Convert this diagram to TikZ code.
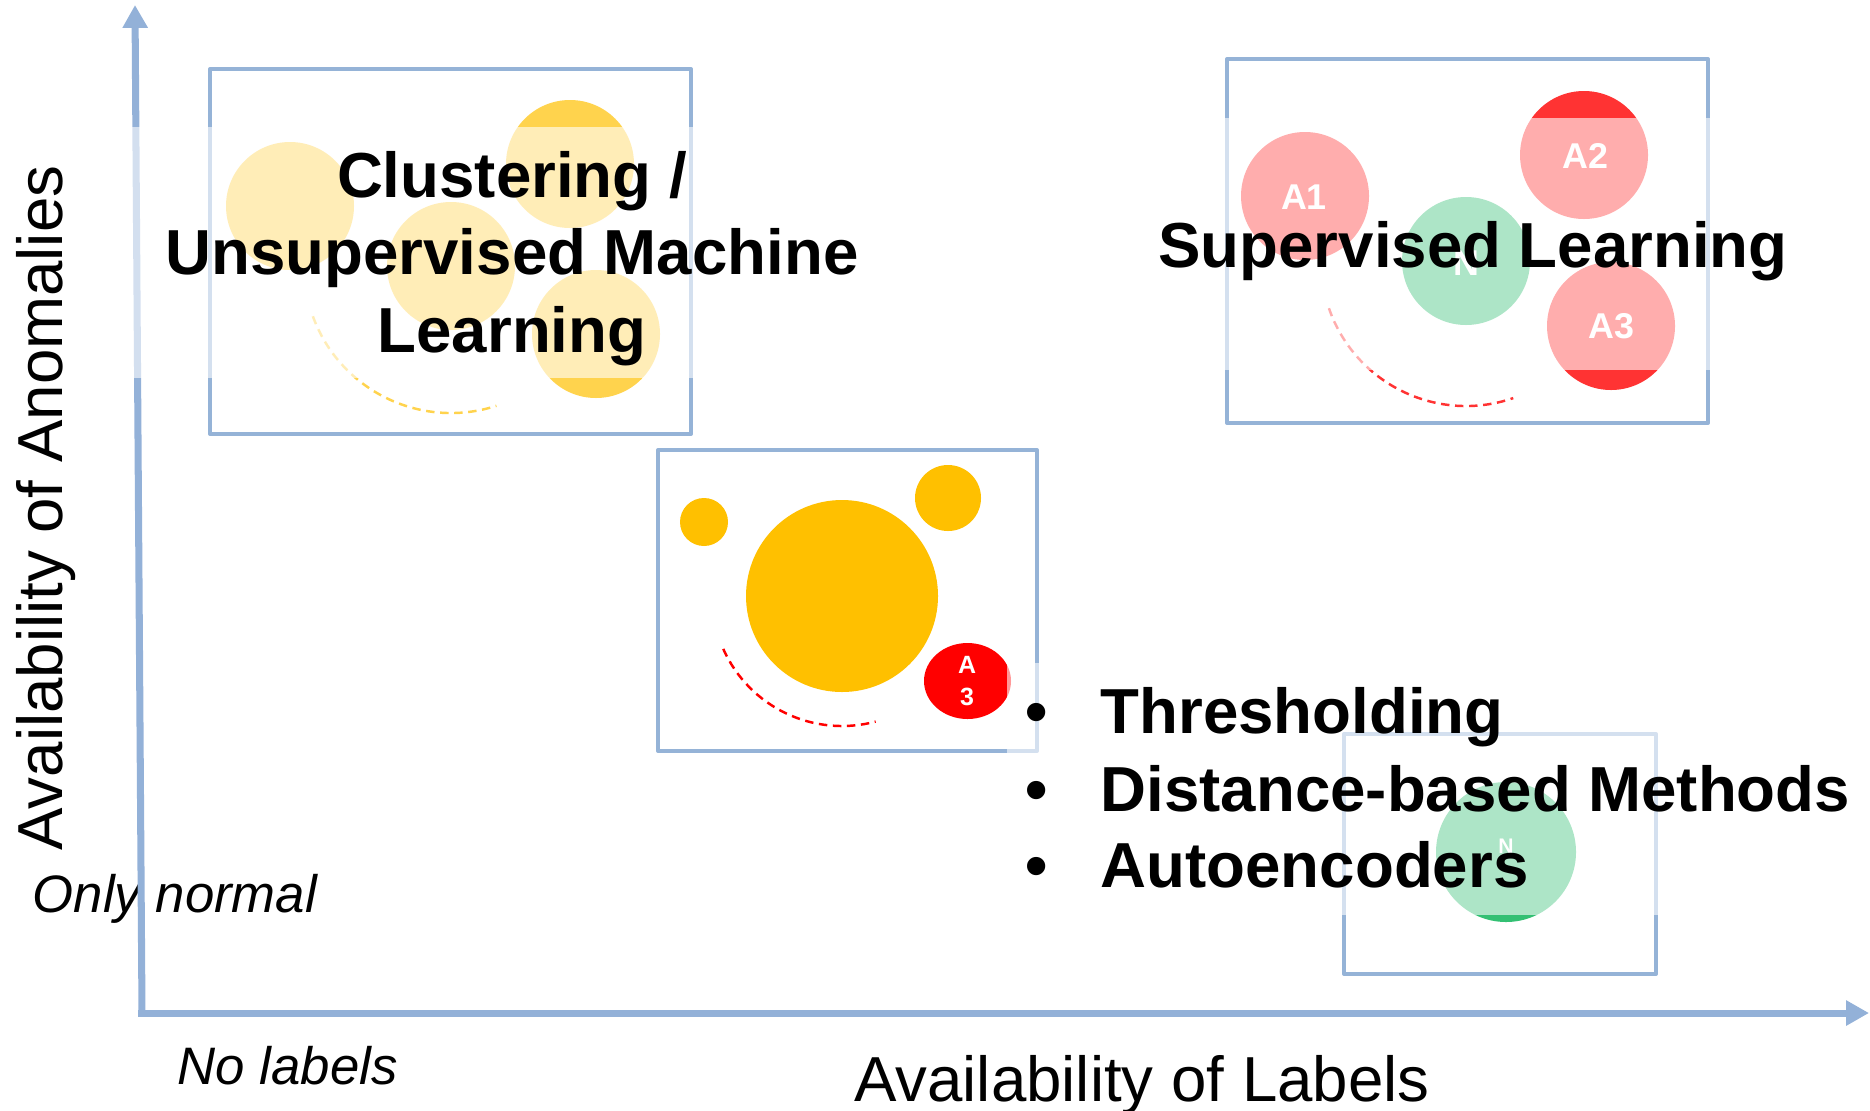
\documentclass[tikz,border=0pt]{standalone}
\usepackage{fontspec}
\setmainfont{Liberation Sans}
\usetikzlibrary{arrows.meta}
\definecolor{axisblue}{HTML}{93B1D8}
\definecolor{boxblue}{HTML}{95B3D7}
\definecolor{ylw}{HTML}{FFC000}
\definecolor{ylwlt}{HTML}{FFD34D}
\definecolor{redlt}{HTML}{FF3333}
\definecolor{redfull}{HTML}{FF0000}
\definecolor{grn}{HTML}{33C073}
\tikzset{
 frame/.style={draw=boxblue, line width=1.15pt, line join=round},
 axisline/.style={draw=axisblue, line width=2pt, -{Triangle[length=6.5pt,width=6.8pt]}},
 veil/.style={fill=white, fill opacity=0.6},
 big/.style={font=\fontsize{18.1}{22}\selectfont\bfseries, inner sep=0pt, text=black},
 axlab/.style={font=\fontsize{18.1}{22}\selectfont, inner sep=0pt, text=black},
 itlab/.style={font=\fontsize{15}{18}\selectfont\itshape, inner sep=0pt, text=black},
 clab/.style={font=\fontsize{10.2}{12}\selectfont\bfseries, text=white, inner sep=0pt},
 slab/.style={font=\fontsize{7.1}{8}\selectfont\bfseries, text=white, inner sep=0pt},
 tlab/.style={font=\fontsize{6}{7}\selectfont\bfseries, text=white, inner sep=0pt},
 dasharc/.style={dash pattern=on 2.4pt off 1.6pt, line width=0.7pt},
}
\begin{document}
\begin{tikzpicture}[x=0.1mm, y=-0.1mm]
\useasboundingbox (0,0) rectangle (1870,1110);

% corner labels (under the axes)
\node[itlab, anchor=base west] (onlynormal) at (32,912) {Only normal};
\node[itlab, anchor=base west] (nolabels) at (177,1084) {No labels};

% frames
\draw[frame] (210,69) rectangle (691,434);
\draw[frame] (1227,59) rectangle (1708,423);
\draw[frame] (658,450) rectangle (1037,751);
\draw[frame] (1344,734) rectangle (1656,974);

% axes
\coordinate (origin) at (142,1013);
\coordinate (ytip) at (135,5);
\coordinate (xstart) at (138,1013);
\coordinate (xtip) at (1869,1013);
\draw[axisline] (origin) -- (ytip);
\draw[axisline] (xstart) -- (xtip);

% top-left cluster circles
\fill[ylwlt] (290,206) circle (64);
\fill[ylwlt] (570,164) circle (64);
\fill[ylwlt] (451,266) circle (64);
\fill[ylwlt] (596,334) circle (64);
\draw[ylwlt, dasharc] (451,266) ++(160:147) arc[start angle=160, end angle=72, radius=147];

% top-right supervised circles
\fill[redlt] (1305,196) circle (64);
\fill[redlt] (1584,155) circle (64);
\fill[grn] (1466,261) circle (64);
\fill[redlt] (1611,326) circle (64);
\draw[redlt, dasharc] (1466,261) ++(161:145) arc[start angle=161, end angle=71, radius=145];

% middle circles
\fill[ylw] (704,522) circle (24);
\fill[ylw] (948,498) circle (33);
\fill[ylw] (842,596) circle (96);
\fill[redfull] (967.5,681) ellipse [x radius=43.5, y radius=38];
\draw[redfull, dasharc] (842,596) ++(156:130) arc[start angle=156, end angle=75, radius=130];

% bottom-right normal circle
\fill[grn] (1506,852) circle (70);

% semi-transparent text-box backgrounds
\fill[veil] (100,127) rectangle (900,378);
\fill[veil] (1150,118) rectangle (1800,370);
\fill[veil] (1007,663) rectangle (1860,915);

% circle labels
\node[clab] (la1) at (1304,197) {A1};
\node[clab] (la2) at (1585,156) {A2};
\node[clab] (la3) at (1611,326) {A3};
\node[clab] (ln) at (1466,263) {N};
\node[slab] (ma) at (967,665) {A};
\node[slab] (m3) at (967,696.5) {3};
\node[tlab] (bn) at (1506,846.5) {N};

% big texts
\node[big, anchor=base] (cl1) at (512,197) {Clustering /};
\node[big, anchor=base] (cl2) at (512,274) {Unsupervised Machine};
\node[big, anchor=base] (cl3) at (512,352) {Learning};
\node[big, anchor=base] (sup) at (1473,267) {Supervised Learning};

\node[big, anchor=base] (b1) at (1037,733) {•};
\node[big, anchor=base] (b2) at (1037,811) {•};
\node[big, anchor=base] (b3) at (1037,887) {•};
\node[big, anchor=base west] (t1) at (1100,733) {Thresholding};
\node[big, anchor=base west] (t2) at (1100,811) {Distance-based Methods};
\node[big, anchor=base west] (t3) at (1100,887) {Autoencoders};

% axis labels
\node[axlab, anchor=base] (xlab) at (1142,1101) {Availability of Labels};
\node[axlab, anchor=base, rotate=90] (ylab) at (62,508) {Availability of Anomalies};
\end{tikzpicture}
\end{document}
